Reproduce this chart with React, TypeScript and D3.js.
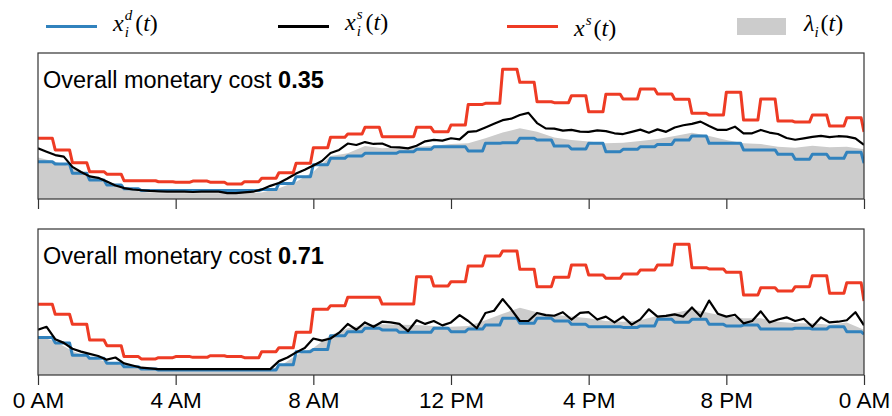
import React, { useEffect, useRef } from 'react';
import * as d3 from 'd3';

const hourTicks = [0, 4, 8, 12, 16, 20, 24];
const tickLabels = ['0 AM', '4 AM', '8 AM', '12 PM', '4 PM', '8 PM', '0 AM'];
const costs = ['0.35', '0.71'];

// x^s(t): one value per 30 min slot, last entry is the value at midnight
const supplyTop = [41.6, 33.6, 24.9, 18.7, 17, 12.5, 12.5, 11.8, 11.5, 12.3, 11.5, 10.3, 11.9, 14.2, 18, 24.5,
  35.1, 42.3, 44.5, 49.1, 42.7, 42.7, 49.1, 46.1, 50.7, 64.8, 65.5, 88.8, 79.9, 66.6, 66, 70.8,
  59.8, 71.7, 68.5, 75.3, 71.9, 68.3, 58.7, 57.5, 73.1, 54.1, 68.5, 53.4, 52.7, 57.5, 50, 55.7, 46];
const supplyBottom = [48.4, 41.6, 34.7, 24, 20.1, 12.6, 11, 11.9, 12.6, 12.1, 13.2, 12.6, 11.9, 16, 18.7, 29.2,
  45, 47.5, 53.2, 53.2, 48.6, 48.6, 67.3, 61, 63.9, 74.7, 81.5, 84.9, 72.4, 60.5, 66.9, 75.3,
  68.5, 66.2, 69.2, 71.9, 75.3, 89.5, 73.5, 72.6, 70.3, 54.8, 59.8, 57.5, 60.5, 68, 56, 63.2, 50.7];

// x_i^d(t): per 30 min slot, last entry at midnight
const demandTop = [25.5, 24, 17.6, 13, 9.6, 7, 5.8, 5.8, 5.8, 5.8, 5.8, 5.8, 5.8, 6.5, 10.7, 15.3,
  23.5, 27.9, 29.5, 31.3, 31.3, 32.4, 34, 35.8, 35.8, 32.9, 38.1, 38.5, 41.6, 40.4, 36.3, 34.2,
  38.1, 32.4, 34, 35.8, 37.4, 40.4, 43.2, 38.1, 38.1, 33.6, 33.6, 30.6, 27.2, 30.6, 27.9, 32, 24.5];
const demandBottom = [25.6, 22, 13.5, 11.4, 8, 5.7, 4.1, 3.4, 3.4, 3.4, 3.4, 3.4, 3.4, 3.4, 7, 16,
  17.5, 26.9, 29.7, 32, 30.9, 29.2, 29.2, 32, 29.7, 31.5, 34.2, 38.8, 35.4, 38.8, 37, 34.7,
  33.1, 33.1, 32.6, 33.6, 38.1, 36.1, 38.1, 34.7, 33.6, 34.2, 31.5, 31.5, 32, 31.5, 33.1, 29.7, 27.9];

// lambda_i(t): every half hour from 0:00 to 24:00
const lambdaTop = [28.5, 25.5, 21.7, 16.4, 10.7, 7.3, 5, 4, 4, 4, 4, 4, 4, 4.5, 7.3, 11.9,
  18.7, 29.5, 31.3, 36.3, 34.7, 35.4, 35.8, 36.5, 37.7, 38.1, 41.6, 45.5, 48.4, 46.1, 42.2, 40.4,
  39.3, 38.1, 38.6, 39.7, 41.1, 43.2, 45.4, 43.2, 40.4, 38.1, 37.7, 35.8, 35.1, 36.5, 35.4, 35.8, 34];
const lambdaBottom = [26.9, 23, 16.5, 12, 9.1, 6.4, 4.5, 3, 3, 3, 3, 3, 3, 3, 5.5, 13.5,
  18.5, 27.4, 32, 34.5, 34.7, 34.5, 34.2, 33.5, 33.1, 33.5, 37.5, 42, 46, 43, 41.3, 40,
  38.8, 37, 36.5, 37.5, 40.5, 42.5, 45, 42.5, 40.2, 38.8, 38.8, 36.5, 35.4, 35.4, 34.5, 36, 31];

// x_i^s(t): every 15 min from 0:00 to 24:00
const servedTop = [34.7, 32.4, 30.1, 29, 22, 18.5, 15.5, 14.5, 12, 9.2, 7.5, 6.5, 6, 5.5, 5.2, 5,
  5, 5, 4.8, 5, 5, 5, 4, 4, 4.5, 5, 6.5, 9, 11, 14, 17.5, 20,
  23, 26, 31.5, 33.6, 38, 37, 39, 37.7, 38, 35.6, 35.3, 34.7, 36.5, 39.5, 40.5, 40,
  41.6, 40.8, 46, 46.5, 49, 51.5, 54, 55, 57.5, 59, 52, 48.4, 48.2, 46.8, 47.3, 46.1,
  46, 47, 46.5, 45, 44.5, 46, 47.5, 45.4, 47.7, 46, 49, 50.5, 51.5, 53, 50, 47.3,
  47.3, 49.5, 45, 45, 47.3, 45.5, 44.5, 41.8, 40.6, 41.5, 42.5, 43.2, 42.4, 43, 42.7, 41.5, 37];
const servedBottom = [31, 33, 24.5, 22, 18, 16, 14.5, 13, 10.5, 12, 8, 6.5, 5, 4.5, 4, 4,
  4, 4, 4, 4, 4, 4, 4, 4, 4, 4, 4, 4, 9.5, 12, 15.5, 18.5,
  25, 23.5, 25, 29, 35, 31, 36, 33, 36.5, 36, 35, 30, 37.5, 35, 37, 34,
  36, 41, 37, 32, 42.5, 44, 52, 45, 37, 37, 42.5, 41, 40.6, 43, 38, 42.5,
  43, 38, 40, 36, 40, 34.5, 38.1, 45, 40, 40.5, 41.5, 40, 46.3, 40, 51, 42,
  40, 41.3, 35.4, 37, 43.6, 36, 38, 39.5, 37, 38.5, 33, 39.5, 36, 36.5, 37.5, 43, 34];

const panelData = [
  { supply: supplyTop, demand: demandTop, lambda: lambdaTop, served: servedTop, cost: costs[0] },
  { supply: supplyBottom, demand: demandBottom, lambda: lambdaBottom, served: servedBottom, cost: costs[1] },
];

const colors = { demand: '#3182bd', served: '#000000', supply: '#ee3b24', lambda: '#cccccc' };

// slot values -> points with a short ramp at each slot change
const stepPoints = (vals: number[]) => {
  const pts: [number, number][] = [];
  vals.slice(0, vals.length - 1).forEach((v, i) => {
    pts.push([i * 0.5, v]);
    pts.push([i * 0.5 + 0.5 - 1 / 12, v]);
  });
  pts.push([24, vals[vals.length - 1]]);
  return pts;
};
const sampled = (vals: number[]) => vals.map((v, i) => [i * 24 / (vals.length - 1), v] as [number, number]);

const App = () => {
  const chart = useRef<SVGSVGElement>(null);
  const width = 892;
  const height = 416;
  const margin = { left: 38, right: 28 };
  const panelTops = [53, 229];
  const panelH = 146;

  useEffect(() => {
    const svg = d3.select(chart.current);
    svg.selectAll('*').remove();
    const x = d3.scaleLinear().domain([0, 24]).range([margin.left, width - margin.right]);

    panelData.forEach((p, pi) => {
      const top = panelTops[pi];
      const y = d3.scaleLinear().domain([0, 100]).range([top + panelH, top]);
      const g = svg.append('g');
      const clipId = `clip${pi}`;
      g.append('clipPath').attr('id', clipId)
        .append('rect')
        .attr('x', x(0)).attr('y', top)
        .attr('width', x(24) - x(0)).attr('height', panelH);
      const plot = g.append('g').attr('clip-path', `url(#${clipId})`);

      plot.append('path')
        .datum(sampled(p.lambda))
        .attr('fill', colors.lambda)
        .attr('d', d3.area<[number, number]>().x(d => x(d[0])).y0(y(0)).y1(d => y(d[1])));

      const line = d3.line<[number, number]>().x(d => x(d[0])).y(d => y(d[1]));
      plot.append('path').datum(stepPoints(p.demand))
        .attr('fill', 'none').attr('stroke', colors.demand).attr('stroke-width', 3)
        .attr('stroke-linejoin', 'round').attr('d', line);
      plot.append('path').datum(sampled(p.served))
        .attr('fill', 'none').attr('stroke', colors.served).attr('stroke-width', 2.2)
        .attr('stroke-linejoin', 'round').attr('d', line);
      plot.append('path').datum(stepPoints(p.supply))
        .attr('fill', 'none').attr('stroke', colors.supply).attr('stroke-width', 3)
        .attr('stroke-linejoin', 'round').attr('d', line);

      g.append('rect')
        .attr('x', x(0)).attr('y', top)
        .attr('width', x(24) - x(0)).attr('height', panelH)
        .attr('fill', 'none').attr('stroke', '#333').attr('stroke-width', 1.2);

      const axis = g.append('g')
        .attr('transform', `translate(0,${top + panelH})`)
        .call(d3.axisBottom(x)
          .tickValues(hourTicks)
          .tickSize(10)
          .tickPadding(7)
          .tickFormat((d, i) => (pi === 1 ? tickLabels[i] : '')));
      axis.select('.domain').remove();
      axis.selectAll('.tick line').attr('stroke', '#333').attr('stroke-width', 1.2);
      axis.selectAll('.tick text')
        .attr('font-family', '"Liberation Sans", Arial, sans-serif')
        .attr('font-size', 22.5)
        .attr('fill', '#000');

      const label = g.append('text')
        .attr('x', x(0) + 5).attr('y', top + 35)
        .attr('font-family', '"Liberation Sans", Arial, sans-serif')
        .attr('font-size', 23.5)
        .attr('fill', '#000');
      label.append('tspan').text('Overall monetary cost ');
      label.append('tspan').attr('font-weight', 'bold').text(p.cost);
    });

    // legend
    const legend = svg.append('g')
      .attr('font-family', '"Liberation Serif", "Times New Roman", serif')
      .attr('font-size', 24)
      .attr('fill', '#000');
    const items = [
      { key: 'demand', x: 46, base: 31, sup: 'd', sub: 'i', sym: 'x' },
      { key: 'served', x: 278, base: 30, sup: 's', sub: 'i', sym: 'x' },
      { key: 'supply', x: 507, base: 36, sup: 's', sub: '', sym: 'x' },
      { key: 'lambda', x: 737, base: 31, sup: '', sub: 'i', sym: 'λ' },
    ];
    const scriptSize = 15;
    const supW: Record<string, number> = { d: 7.5, s: 5.8 };
    const subW = 4.2;
    items.forEach(it => {
      if (it.key === 'lambda') {
        legend.append('rect').attr('x', it.x).attr('y', 18).attr('width', 49).attr('height', 17)
          .attr('fill', colors.lambda);
      } else {
        legend.append('line').attr('x1', it.x).attr('x2', it.x + 51).attr('y1', 26.5).attr('y2', 26.5)
          .attr('stroke', (colors as any)[it.key]).attr('stroke-width', 3);
      }
      const t = legend.append('text').attr('x', it.x + 67).attr('y', it.base);
      t.append('tspan').attr('font-style', 'italic').text(it.sym);
      let dyTotal = 0;
      let parenDx = 2;
      if (it.sup) {
        t.append('tspan').attr('font-style', 'italic').attr('font-size', scriptSize)
          .attr('dx', 1).attr('dy', -11).text(it.sup);
        dyTotal = -11;
      }
      if (it.sub) {
        const back = it.sup ? -supW[it.sup] : 0;
        const dy = 6 - dyTotal;
        t.append('tspan').attr('font-style', 'italic').attr('font-size', scriptSize)
          .attr('dx', back).attr('dy', dy).text(it.sub);
        dyTotal += dy;
        if (it.sup) parenDx = supW[it.sup] - subW + 3;
      }
      t.append('tspan').attr('dx', parenDx).attr('dy', -dyTotal).text('(');
      t.append('tspan').attr('font-style', 'italic').text('t');
      t.append('tspan').text(')');
    });
  }, []);

  return (
    <svg
      ref={chart}
      width={width}
      height={height}
      style={{ position: 'absolute', left: 0, top: 0, background: '#fff' }}
    />
  );
};

export default App;
